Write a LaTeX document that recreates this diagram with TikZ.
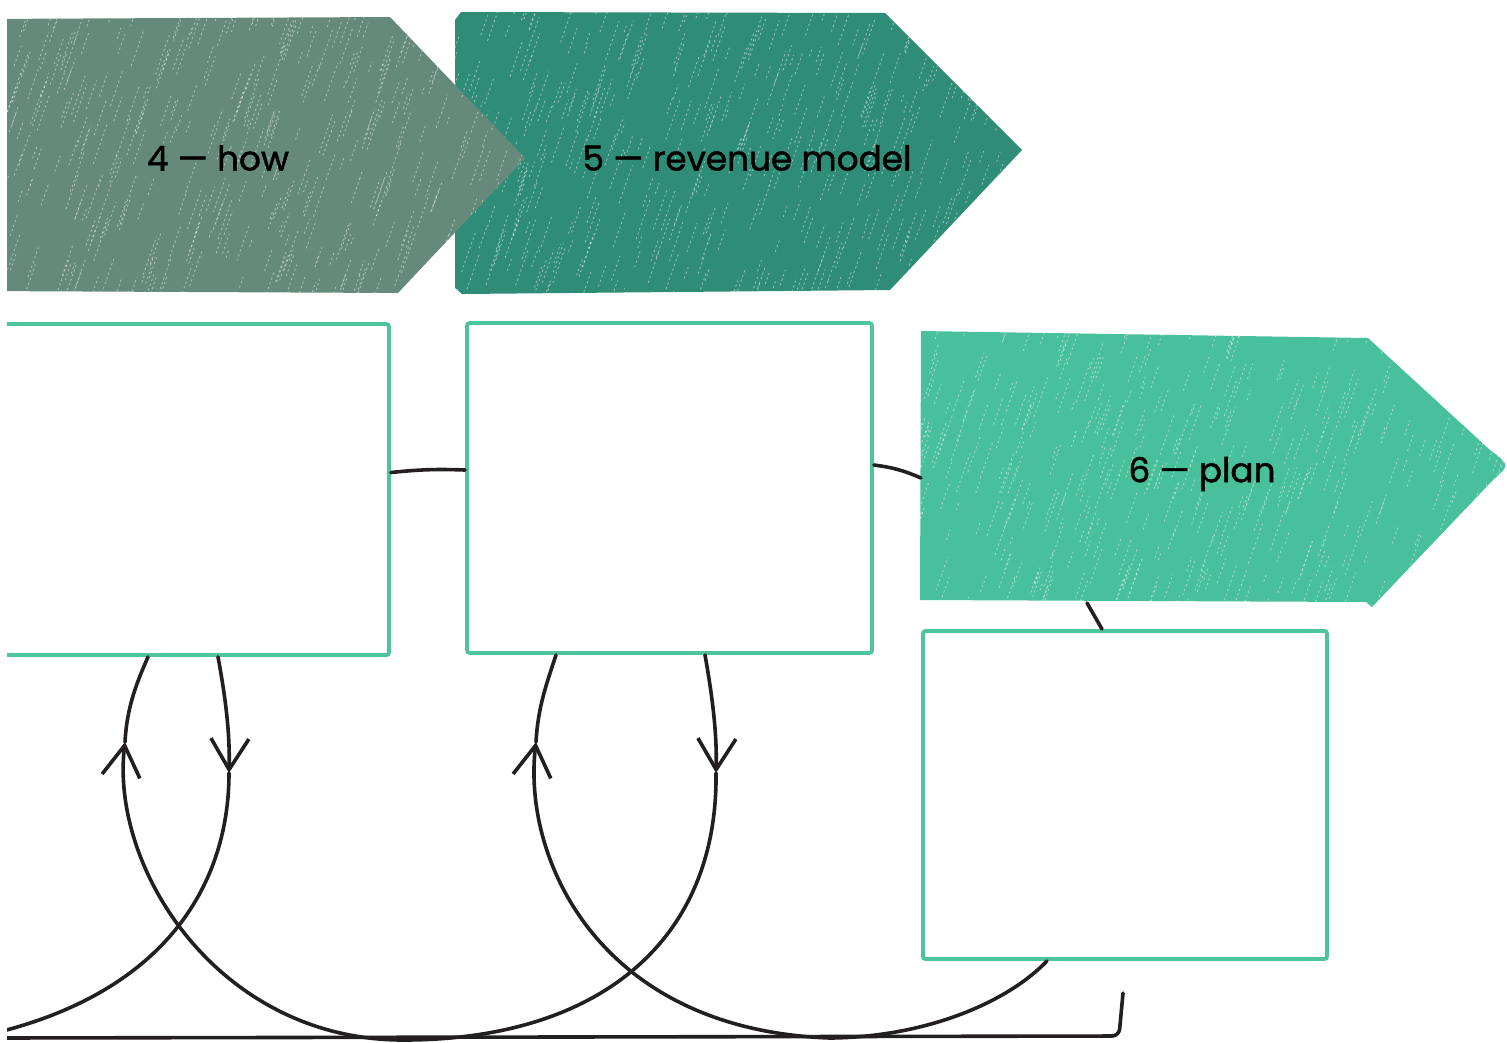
\documentclass[tikz,border=0pt]{standalone}
\usepackage{fontspec}
\setmainfont{Poppins}
\newfontfamily\labelfont{Poppins}[FakeBold=1.4]
\usetikzlibrary{arrows.meta,calc}

\definecolor{howgreen}{HTML}{658A7B}
\definecolor{revgreen}{HTML}{2F8D77}
\definecolor{plangreen}{HTML}{48C09B}
\definecolor{boxgreen}{HTML}{4DC49E}
\definecolor{ink}{HTML}{231F20}

\tikzset{
  cell/.style={draw=boxgreen, fill=white, line width=3.8*0.02cm, rounded corners=1.5pt, inner sep=0pt},
  link/.style={draw=ink, line width=3.6*0.02cm, line cap=round, line join=round},
  barb/.style={-{Straight Barb[length=0.62cm, width=0.76cm]}},
  title/.style={font=\labelfont\fontsize{19.5}{24}\selectfont, text=black},
}

\newcommand{\chalk}[4]{%
  \foreach \k in {1,...,450}{
    \pgfmathsetmacro\cx{#1+rnd*#3}
    \pgfmathsetmacro\cy{#2+rnd*#4}
    \pgfmathsetmacro\cl{8+rnd*34}
    \draw[white, opacity=0.5, line width=0.45pt, dash pattern=on 1.2pt off 1.6pt] (\cx,\cy) -- ++(0.35*\cl,-\cl);
  }}

\begin{document}
\begin{tikzpicture}[x=0.02cm, y=-0.02cm]
\useasboundingbox (0,0) rectangle (1507,1042);
\clip (7,0) rectangle (1507,1042);
\pgfmathsetseed{7}

\begin{scope}
  \clip (461,12) -- (885,13) -- (1022,150) -- (890,290) -- (462,294) -- (455,288) -- (455,20) -- cycle;
  \fill[revgreen] (440,0) rectangle (1030,300);
  \chalk{440}{0}{590}{310}
\end{scope}

\begin{scope}
  \clip (-20,19) -- (390,17) -- (525,158) -- (398,293) -- (-20,291) -- cycle;
  \fill[howgreen] (-20,0) rectangle (530,300);
  \chalk{-20}{0}{550}{310}
\end{scope}

\begin{scope}
  \clip (921,331) -- (1368,338) -- (1490,450) .. controls (1510,465) .. (1493,480) -- (1372,607) -- (1366,602) -- (920,600) -- cycle;
  \fill[plangreen] (910,320) rectangle (1507,610);
  \chalk{910}{320}{600}{300}
\end{scope}

\node[title] (how) at (218,158) {4 — how};
\node[title] (revenue) at (747,158) {5 — revenue model};
\node[title] (plan) at (1202,474) {6 — plan};

\node[cell, minimum width=409*0.02cm, minimum height=331*0.02cm] (box1) at (184.5,489.5) {};
\node[cell, minimum width=405*0.02cm, minimum height=330*0.02cm] (box2) at (669.5,488) {};
\node[cell, minimum width=404*0.02cm, minimum height=328*0.02cm] (box3) at (1125,795) {};

\coordinate (p6w) at (921,478);
\coordinate (p6s) at (1087,603);
\coordinate (d1) at (229,773);
\coordinate (u1) at (125,742);
\coordinate (d2) at (716,773);
\coordinate (u2) at (536,742);
\coordinate (j1) at (403,1040);
\coordinate (j2) at (830,1038);
\coordinate (exit) at (-5,1033);
\coordinate (brL) at (-10,1038);
\coordinate (brT) at (1123,993);

\draw[link] ($(box1.east)+(0,-17)$) to[bend left=4] ($(box2.west)+(0,-18)$);
\draw[link] ($(box2.east)+(0,-23)$) to[bend left=8] (p6w);
\draw[link] (p6s) -- ($(box3.north)+(-23,0)$);

\draw[link, barb] ($(box1.south)+(33.5,0)$) .. controls (226,700) and (230,735) .. (d1);
\draw[link] (d1) .. controls (229,880) and (170,990) .. (exit);

\draw[link, barb] ($(box2.south)+(35.5,0)$) .. controls (713,700) and (717,735) .. (d2);
\draw[link] (d2) .. controls (718,940) and (600,1040) .. (j1);
\draw[link, barb] (j1) .. controls (220,1040) and (110,870) .. (u1);
\draw[link] (u1) .. controls (127,705) and (138,680) .. ($(box1.south)+(-36.5,0)$);

\draw[link] ($(box3.south)+(-78,0)$) .. controls (1010,1000) and (930,1037) .. (j2);
\draw[link, barb] (j2) .. controls (600,1030) and (522,860) .. (u2);
\draw[link] (u2) .. controls (538,705) and (548,680) .. ($(box2.south)+(-113.5,0)$);

\draw[link, rounded corners=4] (brL) -- (1119,1036) -- (brT);
\end{tikzpicture}
\end{document}
